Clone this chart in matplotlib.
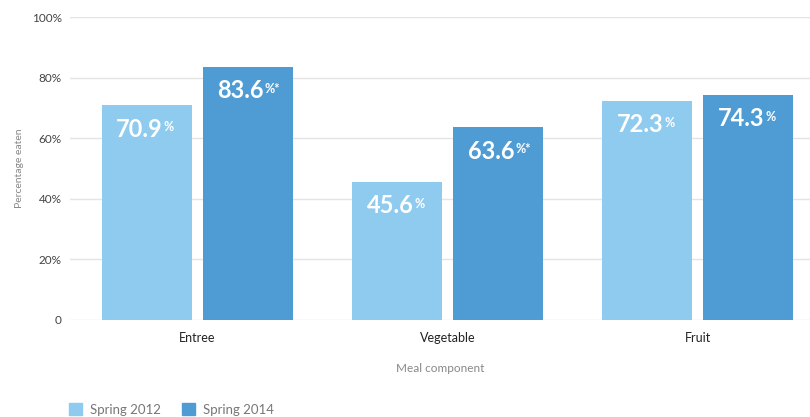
import matplotlib
matplotlib.use("Agg")
import matplotlib.pyplot as plt
import numpy as np
from matplotlib.patches import Rectangle

categories = ["Entree", "Vegetable", "Fruit"]
series_names = ["Spring 2012", "Spring 2014"]
spring_2012 = [70.9, 45.6, 72.3]
spring_2014 = [83.6, 63.6, 74.3]
suffix_2012 = ["%", "%", "%"]
suffix_2014 = ["%*", "%*", "%"]
y_ticks = [0, 20, 40, 60, 80, 100]
y_tick_labels = ["0", "20%", "40%", "60%", "80%", "100%"]

colors = ["#8ECBEF", "#4F9CD5"]
plt.rcParams['font.family'] = ['Lato', 'DejaVu Sans']

fig = plt.figure(figsize=(8.1, 4.17), dpi=100)
ax = fig.add_axes([70/810, 1 - 320/417, 740/810, 303/417])

x = np.arange(len(categories))
w = 0.36
off = 0.202
bars1 = ax.bar(x - off, spring_2012, w, color=colors[0], zorder=2)
bars2 = ax.bar(x + off, spring_2014, w, color=colors[1], zorder=2)

ax.set_ylim(0, 100)
ax.set_xlim(-0.508, 2.448)
ax.set_yticks(y_ticks)
ax.set_yticklabels(y_tick_labels, fontsize=8.5, color="#444444")
ax.set_xticks(x)
ax.set_xticklabels(categories, fontsize=9, color="#222222")
ax.tick_params(axis='both', length=0)
ax.tick_params(axis='y', pad=6)
ax.tick_params(axis='x', pad=9)
for s in ax.spines.values():
    s.set_visible(False)
ax.yaxis.grid(True, color="#e4e4e4", lw=1, zorder=0)
ax.set_axisbelow(True)

ax.set_ylabel("Percentage eaten", fontsize=7.5, color="#888888")
ax.yaxis.set_label_coords(-0.062, 0.5)
ax.set_xlabel("Meal component", fontsize=8.5, color="#888888", labelpad=13)

# value labels
fig.canvas.draw()
renderer = fig.canvas.get_renderer()
for bars, vals, sufs in [(bars1, spring_2012, suffix_2012), (bars2, spring_2014, suffix_2014)]:
    for b, v, sfx in zip(bars, vals, sufs):
        cx = b.get_x() + b.get_width() / 2
        t = ax.annotate(f"{v:.1f}", xy=(cx, v), xytext=(-5, -9), textcoords='offset points',
                        ha='center', va='top', color='white', fontsize=17, fontweight='bold', zorder=3)
        fig.canvas.draw()
        bb = t.get_window_extent(renderer)
        xd, yd = ax.transData.inverted().transform((bb.x1, bb.y1))
        ax.annotate(sfx, xy=(xd, yd), xytext=(0.6, -2.5), textcoords='offset points',
                    ha='left', va='top', color='white', fontsize=9, fontweight='bold', zorder=3)

# legend
handles = [Rectangle((0, 0), 1, 1, color=c) for c in colors]
leg = fig.legend(handles, series_names, loc='lower left', bbox_to_anchor=(57/810, -0.025),
                 ncol=2, frameon=False, fontsize=9.5, handlelength=1.0, handleheight=1.0,
                 columnspacing=1.6, handletextpad=0.6)
for txt in leg.get_texts():
    txt.set_color("#777777")

fig.savefig("out.png", dpi=100)
